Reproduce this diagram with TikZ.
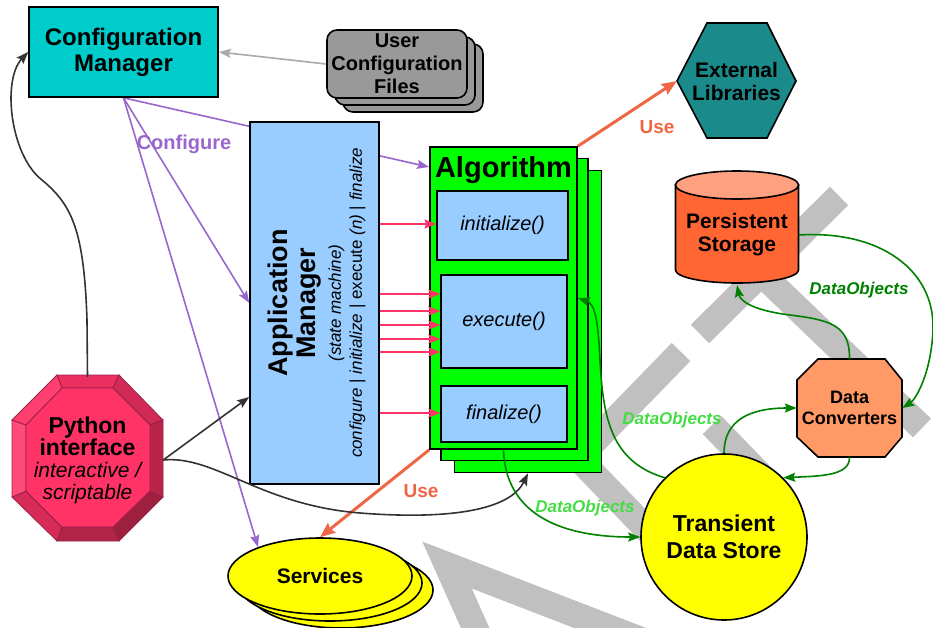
\documentclass[tikz,border=0pt]{standalone}
\usepackage{fontspec}
\setmainfont{Liberation Sans}
\usetikzlibrary{arrows.meta, shapes.geometric, backgrounds}

\definecolor{cfgcyan}{HTML}{00CCCC}
\definecolor{ucfgray}{HTML}{999999}
\definecolor{ucfline}{HTML}{AAAAAA}
\definecolor{libteal}{HTML}{1B8A8A}
\definecolor{alggreen}{HTML}{00FF00}
\definecolor{callblue}{HTML}{99CCFF}
\definecolor{pypink}{HTML}{FF3366}
\definecolor{pyedge}{HTML}{99204D}
\definecolor{svyellow}{HTML}{FFFF00}
\definecolor{psbody}{HTML}{FF6633}
\definecolor{pstop}{HTML}{FFA080}
\definecolor{dcorange}{HTML}{FF9966}
\definecolor{cfgpurple}{HTML}{9966CC}
\definecolor{usered}{HTML}{EE6644}
\definecolor{callpink}{HTML}{FF3366}
\definecolor{dgreen}{HTML}{008000}
\definecolor{lgreen}{HTML}{44DD44}
\definecolor{darkline}{HTML}{333333}
\definecolor{wmgray}{HTML}{C0C0C0}

\begin{document}
\begin{tikzpicture}[x=1pt, y=-1pt,
    box/.style={draw, line width=1.6pt, inner sep=0pt, align=center},
    ucfbox/.style={box, fill=ucfgray, rounded corners=10pt, minimum width=140pt, minimum height=68pt},
    algbox/.style={box, fill=alggreen, minimum width=147pt, minimum height=302pt},
    callbox/.style={draw, line width=1.2pt, fill=callblue, inner sep=0pt, minimum width=126pt, font=\fontsize{20}{22}\selectfont\itshape},
    svshape/.style={ellipse, draw, line width=1.6pt, fill=svyellow, minimum width=184pt, minimum height=76pt, inner sep=0pt},
    textonly/.style={inner sep=0pt, align=center},
    headed/.style={-{Stealth[length=12pt, width=9pt, inset=2pt]}},
    cfgline/.style={headed, cfgpurple, line width=1.6pt},
    useline/.style={-{Stealth[length=15pt, width=12pt, inset=2pt]}, usered, line width=3pt},
    callline/.style={headed, callpink, line width=1.6pt},
    dataline/.style={headed, dgreen, line width=1.6pt},
    pyline/.style={headed, darkline, line width=1.6pt},
    wm/.style={wmgray, line width=26pt},
    uselabel/.style={text=usered, font=\fontsize{19}{19}\selectfont\bfseries},
    datalabel/.style={font=\fontsize{17}{17}\selectfont\bfseries\itshape}]

    \useasboundingbox (0,0) rectangle (933,627);

    % Background strokes
    \draw[wm] (839,196) -- (700,334);
    \draw[wm] (770,282) -- (922,428);
    \draw[wm] (681,352) -- (578,458) -- (665,548);
    \draw[wm] (712,425) -- (770,485);
    \draw[wm] (485,650) -- (447,565) -- (680,655);

    % Configuration
    \node[box, fill=cfgcyan, minimum width=189pt, minimum height=90pt, font=\fontsize{24}{26}\selectfont\bfseries] (cm) at (123.5,52) {Configuration\\Manager};
    \node[ucfbox] (ucf3) at (413,78) {};
    \node[ucfbox] (ucf2) at (405,71) {};
    \node[ucfbox, font=\fontsize{20}{23}\selectfont\bfseries] (ucf) at (397,64) {User\\Configuration\\Files};

    % External libraries
    \filldraw[fill=libteal, line width=1.6pt] (677,81) -- (707,23) -- (767,23) -- (796,81) -- (767,138) -- (707,138) -- cycle;
    \node[textonly, minimum width=119pt, minimum height=115pt, font=\fontsize{21}{23}\selectfont\bfseries] (el) at (736.5,81) {External\\Libraries};

    % Application manager
    \node[box, fill=callblue, minimum width=129pt, minimum height=362pt] (am) at (314.5,303) {};
    \node[rotate=90, align=center, font=\fontsize{27}{28}\selectfont] (amlabel) at (317,303) {%
        \bfseries Application\\
        \bfseries Manager\\[-3pt]
        \fontsize{17}{28}\selectfont\itshape (state machine)\\[-7pt]
        \fontsize{17}{28}\selectfont\itshape configure \upshape| \itshape initialize \upshape| execute \itshape(n) \upshape| \itshape finalize};

    % Algorithm stack
    \node[algbox] (alg3) at (528,321.5) {};
    \node[algbox] (alg2) at (514.5,309.5) {};
    \node[algbox] (alg) at (503.5,298) {};
    \node[anchor=base, font=\fontsize{29}{29}\selectfont\bfseries] (algtitle) at (503.5,177) {Algorithm};
    \node[callbox, minimum width=131pt, minimum height=69pt] (cinit) at (502.5,225.5) {initialize()};
    \node[callbox, minimum height=93pt] (cexec) at (504,321.5) {execute()};
    \node[callbox, minimum height=56pt] (cfin) at (504,414) {finalize()};
    \coordinate (algin) at (429,167);

    % Python interface
    \foreach \i/\x/\y in {1/57/375, 2/119/375, 3/163/420, 4/163/497, 5/119/541, 6/57/541, 7/12/497, 8/12/420}
        \coordinate (o\i) at (\x,\y);
    \foreach \i/\x/\y in {1/62/388, 2/113/388, 3/150/425, 4/150/491, 5/113/527, 6/62/527, 7/26/491, 8/26/425}
        \coordinate (i\i) at (\x,\y);
    \foreach \a/\b/\c in {1/2/pypink!92!black, 2/3/pypink!82!black, 3/4/pypink!72!black, 4/5/pypink!62!black,
                          5/6/pypink!70!black, 6/7/pypink!84!black, 7/8/pypink!88!white, 8/1/pypink!94!white}
        \filldraw[fill=\c, draw=pyedge, line width=0.8pt] (o\a) -- (o\b) -- (i\b) -- (i\a) -- cycle;
    \filldraw[fill=pypink, draw=pyedge, line width=0.8pt] (i1) -- (i2) -- (i3) -- (i4) -- (i5) -- (i6) -- (i7) -- (i8) -- cycle;
    \node[textonly, minimum width=151pt, minimum height=166pt, font=\fontsize{23}{22}\selectfont] (py) at (87.5,460) {%
        \bfseries Python\\
        \bfseries interface\\
        \fontsize{21}{22}\selectfont\itshape interactive /\\
        \fontsize{21}{22}\selectfont\itshape scriptable};

    % Services
    \node[svshape] (sv3) at (341,590) {};
    \node[svshape] (sv2) at (330,583) {};
    \node[svshape, font=\fontsize{21}{21}\selectfont\bfseries] (sv) at (320,576) {Services};

    % Persistent storage
    \filldraw[fill=psbody, line width=1.6pt] (675.5,185) -- (675.5,270) arc[start angle=180, end angle=0, x radius=61.5, y radius=13] -- (798.5,185) -- cycle;
    \filldraw[fill=pstop, line width=1.6pt] (737,185) ellipse [x radius=61.5, y radius=14];
    \node[textonly, minimum width=123pt, minimum height=100pt, font=\fontsize{21}{23}\selectfont\bfseries] (ps) at (737,235) {Persistent\\Storage};

    % Data converters
    \filldraw[fill=dcorange, line width=1.6pt] (818,359) -- (885,359) -- (902,380) -- (902,437) -- (885,457) -- (818,457) -- (797,437) -- (797,380) -- cycle;
    \node[textonly, minimum width=105pt, minimum height=98pt, font=\fontsize{18}{21}\selectfont\bfseries] (dc) at (849.5,408) {Data\\Converters};

    % Transient store
    \node[circle, draw, line width=1.6pt, fill=svyellow, minimum size=166pt, inner sep=0pt, align=center, font=\fontsize{23}{27}\selectfont\bfseries] (ts) at (724,537) {Transient\\Data Store};

    % Configure
    \begin{scope}[on background layer]
        \draw[cfgline] (cm.south) -- (algin);
        \draw[cfgline] (cm.south) -- (am.west);
        \draw[cfgline] (cm.south) -- (sv.155);
    \end{scope}
    \node[text=cfgpurple, font=\fontsize{20}{20}\selectfont\bfseries] (cfglabel) at (184,144) {Configure};
    \draw[headed, ucfline, line width=1.6pt] (ucf.west) -- (cm.east);

    % Use
    \draw[useline] (alg.north east) -- (el.west);
    \draw[useline] (alg.south west) -- (sv.north);
    \node[uselabel] (use1) at (657,127) {Use};
    \node[uselabel] (use2) at (421,491) {Use};

    % Calls into the algorithm
    \foreach \y/\n in {224/cinit, 294/cexec, 311/cexec, 325/cexec, 339/cexec, 352/cexec, 413/cfin}
        \draw[callline] (am.east |- 0,\y) -- (\n.west |- 0,\y);

    % Python
    \draw[pyline] (py.north) -- (87,320) .. controls (84,230) and (72,205) .. (42,180) .. controls (10,155) and (2,80) .. (cm.west);
    \draw[pyline] (py.east) -- (am.west |- 0,397);
    \draw[pyline] (py.east) .. controls (215,455) and (260,505) .. (360,513) .. controls (450,520) and (510,510) .. (alg3.south);

    % Data flow
    \draw[dataline] (alg.south) .. controls (506,525) and (580,537) .. (ts.west);
    \draw[dataline] (ts.135) .. controls (612,462) and (603,420) .. (600,360) .. controls (598,320) and (595,304) .. (alg.east);
    \draw[dataline] (ts.north) .. controls (724,420) and (750,408) .. (dc.west);
    \draw[dataline] (dc.south) .. controls (850,476) and (820,476) .. (ts.45);
    \draw[dataline] (dc.north) .. controls (850,325) and (830,320) .. (790,315) .. controls (750,310) and (740,300) .. (ps.south);
    \draw[dataline] (ps.east) .. controls (880,230) and (935,270) .. (933,330) .. controls (931,375) and (915,400) .. (dc.east);
    \node[datalabel, text=lgreen] (dol1) at (672,420) {DataObjects};
    \node[datalabel, text=lgreen] (dol2) at (585,508) {DataObjects};
    \node[datalabel, text=dgreen] (dol3) at (859,290) {DataObjects};
\end{tikzpicture}
\end{document}
